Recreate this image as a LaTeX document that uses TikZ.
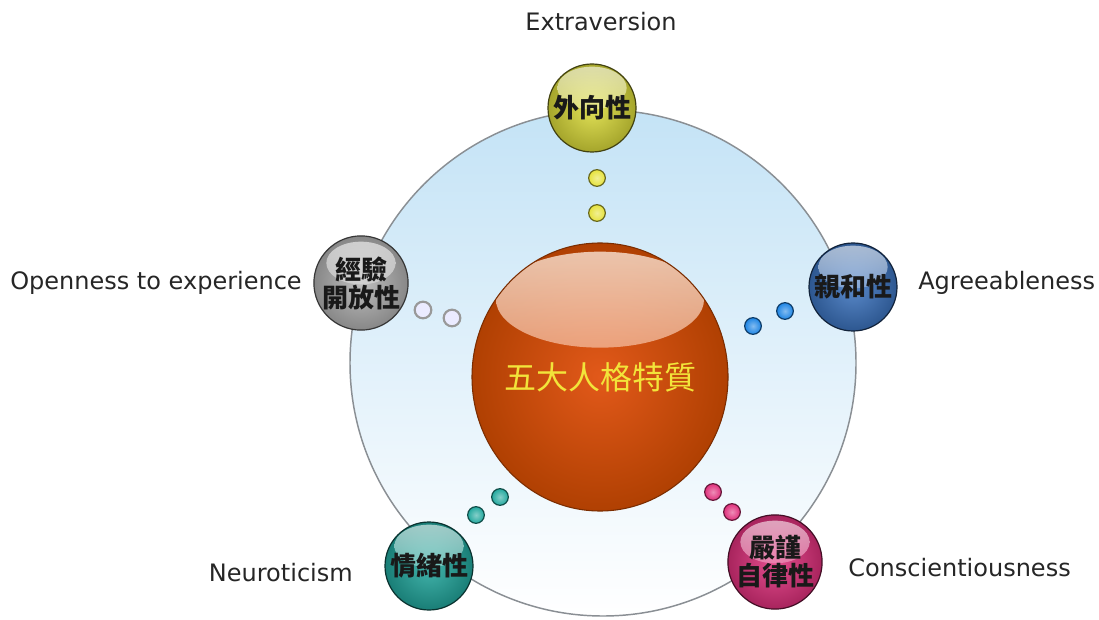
\documentclass[tikz,border=0pt]{standalone}
\usepackage{fontspec}
\setmainfont{DejaVu Sans}
\newfontfamily\cjk{Noto Sans CJK TC}
\usetikzlibrary{shapes.geometric}
\definecolor{bgtop}{HTML}{C4E3F6}
\definecolor{ringgray}{HTML}{8A8F94}
\definecolor{coreIn}{HTML}{E2591A}
\definecolor{coreOut}{HTML}{B04002}
\definecolor{coreText}{HTML}{F2E43A}
\definecolor{yel}{HTML}{DCDC3A}
\definecolor{gry}{HTML}{B4B4B4}
\definecolor{blu}{HTML}{3C74C0}
\definecolor{tea}{HTML}{22A89E}
\definecolor{pnk}{HTML}{E0307C}
\definecolor{dotblu}{HTML}{1C84E4}
\definecolor{dotyel}{HTML}{E6E23C}
\begin{document}
\begin{tikzpicture}[x=0.75pt,y=-0.75pt,
  lbl/.style={font=\fontsize{18}{21}\selectfont, text=black!85, inner sep=0pt},
  orb/.style={circle, inner sep=0pt, minimum size=66pt, draw=#1!30!black,
    line width=0.9pt, inner color=#1!85!white, outer color=#1!75!black,
    font=\cjk\bfseries\fontsize{19.5}{21}\selectfont, text=black!90, align=center,
    path picture={\shade[top color=white, bottom color=#1!90!white, fill opacity=0.6]
      ([yshift=15pt]path picture bounding box.center) ellipse (26pt and 16pt);}},
  dot/.style={circle, inner sep=0pt, minimum size=12.5pt, draw=#1!45!black,
    line width=0.9pt, inner color=#1!55!white, outer color=#1},
  ringdot/.style={circle, inner sep=0pt, minimum size=12.5pt, draw=gray!80,
    line width=1.6pt, fill=white!92!blue}
]
\useasboundingbox (0,0) rectangle (1099,620);
\fill[white] (0,0) rectangle (1099,620);

% background disc
\node[circle, minimum size=379.5pt, inner sep=0pt, draw=ringgray, line width=1.1pt,
  top color=bgtop, bottom color=white] (bg) at (603,363) {};

% core sphere
\node[ellipse, minimum width=192pt, minimum height=201pt, inner sep=0pt,
  draw=coreOut!70!black, line width=0.8pt, inner color=coreIn, outer color=coreOut,
  text=coreText, font=\cjk\fontsize{24}{26}\selectfont,
  path picture={\shade[top color=white!92!orange, bottom color=coreIn!95!white, fill opacity=0.75]
    ([yshift=58pt]path picture bounding box.center) ellipse (78pt and 36pt);}]
  (core) at (600,377) {\makebox[0pt]{五大人格特質}};

% dots
\node[dot=dotyel] (y1) at (597,178) {};
\node[dot=dotyel] (y2) at (597,213) {};
\node[ringdot] (g1) at (423,310) {};
\node[ringdot] (g2) at (452,318) {};
\node[dot=dotblu] (b1) at (785,311) {};
\node[dot=dotblu] (b2) at (753,326) {};
\node[dot=tea] (t1) at (500,497) {};
\node[dot=tea] (t2) at (476,515) {};
\node[dot=pnk] (p1) at (713,492) {};
\node[dot=pnk] (p2) at (732,512) {};

% trait spheres
\node[orb=yel] (ext) at (592,108) {外向性};
\node[orb=gry] (open) at (361,283) {經驗\\開放性};
\node[orb=blu] (agree) at (853,287) {親和性};
\node[orb=tea] (neuro) at (429,566) {情緒性};
\node[orb=pnk] (consc) at (775,562) {嚴謹\\自律性};

% labels
\node[lbl] (lext) at (601,22) {Extraversion};
\node[lbl, anchor=east] (lopen) at (302,283) {Openness to experience};
\node[lbl, anchor=west] (lagree) at (918,283) {Agreeableness};
\node[lbl, anchor=east] (lneuro) at (353,573) {Neuroticism};
\node[lbl, anchor=west] (lconsc) at (848,568) {Conscientiousness};
\end{tikzpicture}
\end{document}
